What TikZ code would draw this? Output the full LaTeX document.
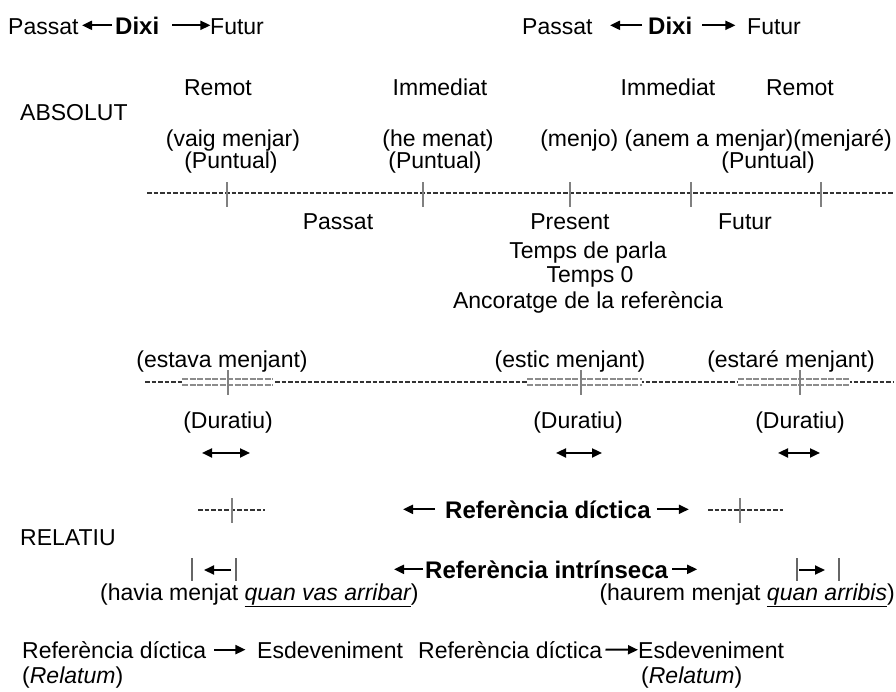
\documentclass[tikz,border=0pt]{standalone}
\usepackage{fontspec}
\setmainfont{Liberation Sans}
\usetikzlibrary{arrows.meta}
\begin{document}
\begin{tikzpicture}[x=1pt,y=-1pt,
  txt/.style={inner sep=0pt, font=\fontsize{23}{26}\selectfont, anchor=base},
  bld/.style={inner sep=0pt, font=\fontsize{24}{26}\selectfont\bfseries, anchor=base},
  arr/.style={line width=2pt, -{Triangle[length=10pt,width=9pt]}},
  darr/.style={line width=2pt, {Triangle[length=10pt,width=9pt]}-{Triangle[length=10pt,width=9pt]}},
  tline/.style={line width=1.6pt, dash pattern=on 4.5pt off 2pt, color=black!80},
  tick/.style={line width=1.7pt, color=black!50},
  dbl/.style={line width=1.3pt, dash pattern=on 6pt off 1.5pt, color=black!45},
  bar/.style={line width=1.5pt, color=black!60}]
\useasboundingbox[fill=white] (0,0) rectangle (896,691);

% ---- top row
\node[txt,anchor=base west] (p1) at (8,34) {Passat};
\node[bld,anchor=base west] (d1) at (115,34) {Dixi};
\node[txt,anchor=base west] (f1) at (210,34) {Futur};
\draw[arr] (d1.west) ++(-3,0) -- ++(-30,0);
\draw[arr] (d1.east) ++(13,0) -- ++(38,0);
\node[txt,anchor=base west] (p2) at (522,34) {Passat};
\node[bld,anchor=base west] (d2) at (648,34) {Dixi};
\node[txt,anchor=base west] (f2) at (747,34) {Futur};
\draw[arr] (d2.west) ++(-6,0) -- ++(-32,0);
\draw[arr] (d2.east) ++(10,0) -- ++(33,0);

% ---- absolut
\node[txt] (r1) at (218,95) {Remot};
\node[txt] (i1) at (440,95) {Immediat};
\node[txt] (i2) at (668,95) {Immediat};
\node[txt] (r2) at (800,95) {Remot};
\node[txt,anchor=base west] (abs) at (20,120) {ABSOLUT};
\node[txt] (vm) at (233,146) {(vaig menjar)};
\node[txt] (hm) at (438,146) {(he menat)};
\node[txt,anchor=base east] (mj) at (892,146) {(menjo) (anem a menjar)(menjaré)};
\node[txt] (pu1) at (231,168) {(Puntual)};
\node[txt] (pu2) at (435,168) {(Puntual)};
\node[txt] (pu3) at (768,168) {(Puntual)};

\coordinate (t1a) at (147,193);
\coordinate (t1b) at (893,193);
\draw[tline] (t1a) -- (t1b);
\foreach \x in {227,423,570,691,821} \draw[tick] (\x,182) -- (\x,207);

\node[txt] (pas) at (338,229) {Passat};
\node[txt] (pre) at (570,229) {Present};
\node[txt] (fut) at (745,229) {Futur};
\node[txt] (tp) at (588,258) {Temps de parla};
\node[txt] (t0) at (590,282) {Temps 0};
\node[txt] (anc) at (588,308) {Ancoratge de la referència};

% ---- durative
\node[txt] (em1) at (222,367) {(estava menjant)};
\node[txt] (em2) at (570,367) {(estic menjant)};
\node[txt] (em3) at (791,367) {(estaré menjant)};
\coordinate (t2a) at (145,382);
\coordinate (t2b) at (893,382);
\draw[tline] (t2a) -- (t2b);
\foreach \a/\b in {182/273,527/642,738/850}{
  \fill[white] (\a,376) rectangle (\b,388);
  \draw[dbl] (\a,379) -- (\b,379);
  \draw[dbl] (\a,385) -- (\b,385);
}
\foreach \x in {228,581,800} \draw[tick] (\x,370) -- (\x,395);
\node[txt] (du1) at (228,428) {(Duratiu)};
\node[txt] (du2) at (578,428) {(Duratiu)};
\node[txt] (du3) at (800,428) {(Duratiu)};
\draw[darr] (du1.south) ++(-26,20) -- ++(48,0);
\draw[darr] (du2.south) ++(-22,20) -- ++(46,0);
\draw[darr] (du3.south) ++(-22,20) -- ++(42,0);

% ---- relatiu
\draw[tline] (198,510) -- (265,510);
\draw[tick] (232,498) -- (232,523);
\draw[tline] (708,510) -- (783,510);
\draw[tick] (740,498) -- (740,523);
\node[bld,anchor=base west] (rd) at (445,518) {Referència díctica};
\draw[arr] (rd.west) ++(-10,0) -- ++(-32,0);
\draw[arr] (rd.east) ++(6,0) -- ++(32,0);
\node[txt,anchor=base west] (rel) at (20,545) {RELATIU};

\draw[bar] (192,558) -- (192,581);
\draw[bar] (236,558) -- (236,581);
\draw[arr] (231,570) -- (204,570);
\node[bld,anchor=base west] (ri) at (425,578) {Referència intrínseca};
\draw[arr] (ri.west) ++(-2,0) -- ++(-29,0);
\draw[arr] (ri.east) ++(4,0) -- ++(25,0);
\draw[bar] (797,558) -- (797,581);
\draw[bar] (839,558) -- (839,581);
\draw[arr] (799,570) -- (825,570);

\node[txt,anchor=base west] (hv) at (100,600) {(havia menjat {\itshape\underline{quan vas arribar}})};
\node[txt,anchor=base east] (hr) at (895,600) {(haurem menjat {\itshape\underline{quan arribis}})};

% ---- bottom
\node[txt,anchor=base west] (b1) at (22,658) {Referència díctica};
\node[txt,anchor=base west] (b2) at (257,658) {Esdeveniment};
\draw[arr] (b1.east) ++(8,0) -- ++(31,0);
\node[txt,anchor=base west] (b3) at (418,658) {Referència díctica};
\node[txt,anchor=base west] (b4) at (638,658) {Esdeveniment};
\draw[arr] (b3.east) ++(3,0) -- (b4.west);
\node[txt,anchor=base west] (rl1) at (22,683) {(\textit{Relatum})};
\node[txt,anchor=base west] (rl2) at (641,683) {(\textit{Relatum})};
\end{tikzpicture}
\end{document}
